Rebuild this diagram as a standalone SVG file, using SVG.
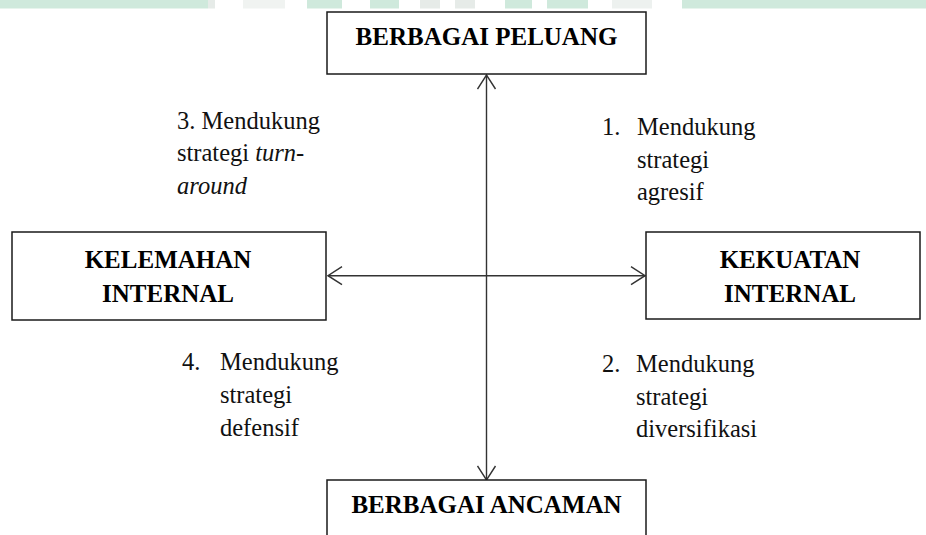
<svg xmlns="http://www.w3.org/2000/svg" width="926" height="535" viewBox="0 0 926 535">
  <style>
    .box { fill: #ffffff; stroke: #1a1a1a; stroke-width: 1.5; }
    .head { font-family: "Liberation Serif", "Times New Roman", serif; font-weight: bold; font-size: 25px; fill: #000; text-anchor: middle; }
    .lbl { font-family: "Liberation Serif", "Times New Roman", serif; font-size: 24.5px; fill: #111; }
    .it { font-style: italic; }
    .conn { stroke: #333; stroke-width: 1.4; fill: none; }
    .band { fill: #cfe9dc; }
    .haze { fill: #e6ebe8; }
  </style>
  <defs>
    <marker id="open" viewBox="0 0 16 20" refX="15" refY="10" markerWidth="16" markerHeight="20" markerUnits="userSpaceOnUse" orient="auto-start-reverse">
      <path d="M1,1 L15,10 L1,19" fill="none" stroke="#333" stroke-width="1.4"/>
    </marker>
  </defs>

  <rect width="926" height="535" fill="#ffffff"/>

  <!-- faded strip along the top edge -->
  <g id="top-strip">
    <rect class="band" x="0" y="0" width="208" height="8.5"/>
    <rect class="haze" x="208" y="0" width="7" height="8.5"/>
    <rect class="haze" x="243" y="0" width="42" height="8.5" opacity="0.6"/>
    <rect class="band" x="307" y="0" width="35" height="8.5"/>
    <rect class="band" x="370" y="0" width="29" height="8.5"/>
    <rect class="haze" x="420" y="0" width="20" height="8.5"/>
    <rect class="haze" x="455" y="0" width="20" height="8.5"/>
    <rect class="band" x="505" y="0" width="27" height="8.5"/>
    <rect class="band" x="547" y="0" width="41" height="8.5"/>
    <rect class="haze" x="612" y="0" width="40" height="8.5" opacity="0.7"/>
    <rect class="band" x="682" y="0" width="244" height="8.5"/>
  </g>

  <!-- connectors: vertical and horizontal double-headed axes -->
  <g id="connectors">
    <line class="conn" x1="486.5" y1="480" x2="486.5" y2="75" marker-start="url(#open)" marker-end="url(#open)"/>
    <line class="conn" x1="645" y1="275.7" x2="328" y2="275.7" marker-start="url(#open)" marker-end="url(#open)"/>
  </g>

  <g id="node-peluang">
    <rect class="box" x="327" y="12" width="319" height="62"/>
    <text class="head" x="486.5" y="45">BERBAGAI PELUANG</text>
  </g>

  <g id="node-kelemahan">
    <rect class="box" x="12" y="232" width="314" height="88"/>
    <text class="head" x="168" y="268">KELEMAHAN</text>
    <text class="head" x="168" y="302">INTERNAL</text>
  </g>

  <g id="node-kekuatan">
    <rect class="box" x="646" y="232" width="274" height="87"/>
    <text class="head" x="790" y="268">KEKUATAN</text>
    <text class="head" x="790" y="302">INTERNAL</text>
  </g>

  <g id="node-ancaman">
    <rect class="box" x="327" y="480" width="319" height="70"/>
    <text class="head" x="486.5" y="513">BERBAGAI ANCAMAN</text>
  </g>

  <g id="label-3">
    <text class="lbl" x="177" y="129">3. Mendukung</text>
    <text class="lbl" x="177" y="161">strategi <tspan class="it">turn-</tspan></text>
    <text class="lbl it" x="177" y="194">around</text>
  </g>

  <g id="label-1">
    <text class="lbl" x="602" y="135">1.</text>
    <text class="lbl" x="637" y="135">Mendukung</text>
    <text class="lbl" x="637" y="168">strategi</text>
    <text class="lbl" x="637" y="200">agresif</text>
  </g>

  <g id="label-4">
    <text class="lbl" x="182" y="370">4.</text>
    <text class="lbl" x="220" y="370">Mendukung</text>
    <text class="lbl" x="220" y="403">strategi</text>
    <text class="lbl" x="220" y="436">defensif</text>
  </g>

  <g id="label-2">
    <text class="lbl" x="602" y="372">2.</text>
    <text class="lbl" x="636" y="372">Mendukung</text>
    <text class="lbl" x="636" y="405">strategi</text>
    <text class="lbl" x="636" y="437">diversifikasi</text>
  </g>
</svg>
